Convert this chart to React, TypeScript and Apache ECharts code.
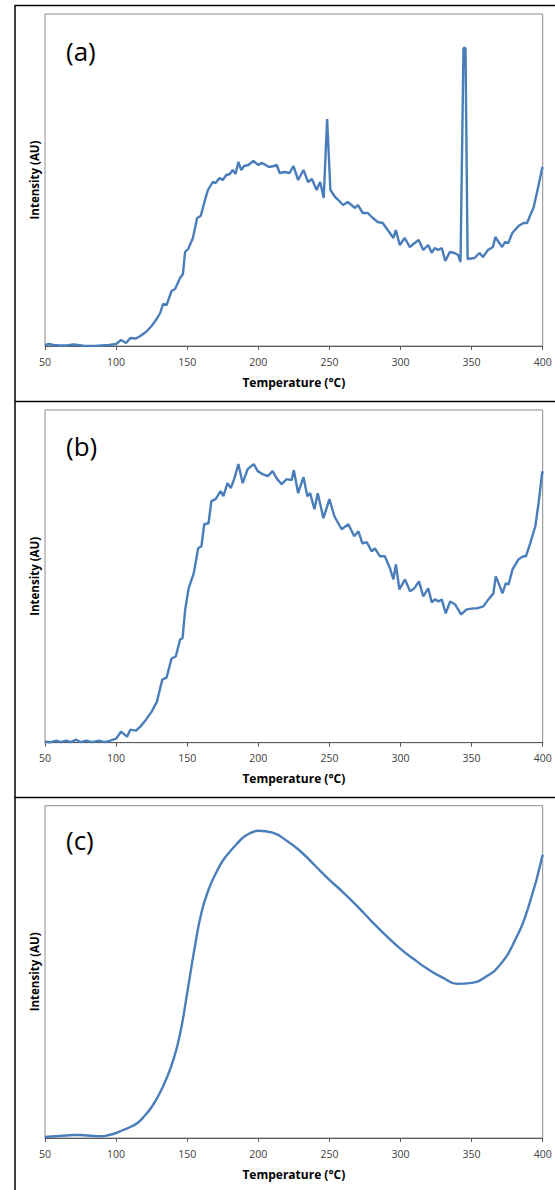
import React, { useEffect, useRef } from "react";
import * as echarts from "echarts";

// Panel (a): raw spectrum with two spikes
const tempA = [50,53,56,60,65,70,73,78,85,90,95,100,103.5,107,110,114,117,121,125,128.5,131,133,135.5,139,141.5,145,147,148.5,150.7,154,157,159.5,162.5,164.6,168,170,172.7,175,177.5,180,182,184,186,188,190,193,196.5,200,202,204,207.5,211,213,215,218.6,222,224.7,228,231.8,235,237.7,241,243.5,246,248.4,250.7,254,256.3,259.6,263,268,270,273.5,277,280.5,284,287.5,292,295,296.7,299.5,303,306.5,310,312.8,316,319.5,322,324,326.5,329,331.5,334.7,338,340.5,342.2,344.3,345.7,347.2,352,355.6,358,361.5,365,366.7,369,371.5,373.5,375.8,378.6,383,386.5,389,391.3,393.5,397,399.5,400];
const intA = [1,2,1,0.5,0.5,1.5,1,0,0,0.5,1,2,6,3,8,7.5,10,14,20,27,33,42,41,55,57,68,72,94,97,108,128,130,146,156,164,163,168,166,171,172,176,172,184,176,180,181,185,181,183,182,179,180,181,173,174,173,180,166,176,164,167,156,164,148,227,156,149,146,141,144,138,141,133,133,128,124,123,114,108,116,101,108,99,103,106,96,101,93,98,96,98,85,94,93,91,84,298,298,87,88,93,89,96,99,109,104,99,104,103,113,120,123,123,131,138,160,177,179];

// Panel (b): spectrum with spikes removed
const tempB = [50,54,58,61,65,68,72,75,79,83,88,92,96,100,103.5,107.7,110,114,117,121,125,128.7,132.5,135.5,139,142,145,146.7,148.6,151,154.6,157.7,160,162,165,167,170,173.5,175.5,178.3,180.7,183,186,189,192.5,196.8,199.6,203,206.7,210,213.3,216.4,220,223.4,225,228,231.8,234.5,236.4,239.5,241.8,245.8,250,253.5,258.6,263.3,267.5,270.4,273.2,276.3,279.8,282,285.6,289,292.6,295,296.8,299.2,303.2,306.7,309.7,313,316,319.5,322,324.3,326.7,329,331.8,334.9,338.4,342.6,346.6,351.3,353.6,358.3,361.8,365.3,367,369.3,371.7,374,376,378.8,383,386.5,388.2,391.2,394.8,397.1,399.5,400];
const intB = [1,0.5,2,0.5,2,0.5,3,0.5,2,0.5,2,0.5,2,4,11,6,13,12,16,23,31,41,63,65,84,86,103,104,133,154,169,194,196,218,219,241,243,251,246,259,254,263,278,259,273,278,271,268,266,271,263,258,263,262,272,249,265,246,249,233,249,224,243,226,213,218,206,211,199,200,191,194,186,186,174,163,178,153,163,151,154,161,146,154,140,143,141,143,129,141,138,128,133,134,134,136,143,149,166,158,149,159,158,173,183,186,186,199,216,239,268,271];

// Panel (c): smoothed spectrum
const tempC = [50,55,60,65,70,75,80,85,90,95,100,105,110,115,120,125,130,135,140,145,150,155,160,165,170,175,180,185,190,195,200,210,220,230,240,250,260,270,280,290,300,310,320,330,340,350,360,370,380,390,400];
const intC = [1,1.5,2,2.5,3,3,2.5,2,1.7,3,5,8,11,15,22,31,43,58,77,104,145,188,225,248,264,277,286,294,301,305,307,305,297,286,272,258,245,231,216,202,189,178,168,160,154,155,161,173,196,231,283];

const xTicks = { min: 50, max: 400, interval: 50 };
const panelLabels = ["(a)", "(b)", "(c)"];
const xTitle = "Temperature (°C)";
const yTitle = "Intensity (AU)";

const zip = (xs: number[], ys: number[]) => xs.map((x, i) => [x, ys[i]]);

export default function App() {
  const ref = useRef<HTMLDivElement>(null);
  useEffect(() => {
    if (!ref.current) return;
    const chart = echarts.init(ref.current, undefined, { renderer: "svg" });
    const grids = [
      { left: 45, top: 14, width: 497.7, height: 332 },
      { left: 45, top: 410, width: 497.7, height: 332.7 },
      { left: 45, top: 805.7, width: 497.7, height: 332.3 },
    ];
    const labelY = [51, 446, 840];
    const datasets = [zip(tempA, intA), zip(tempB, intB), zip(tempC, intC)];
    const font = "Open Sans";
    chart.setOption({
      animation: false,
      backgroundColor: "#fff",
      grid: grids.map((g) => ({ ...g, show: true, borderColor: "#8c8c8c", borderWidth: 1, backgroundColor: "transparent" })),
      xAxis: grids.map((_, i) => ({
        type: "value",
        gridIndex: i,
        min: xTicks.min,
        max: xTicks.max,
        interval: xTicks.interval,
        axisLine: { show: true, lineStyle: { color: "#595959", width: 1 } },
        axisTick: { show: true, length: 4, lineStyle: { color: "#595959" } },
        axisLabel: { fontSize: 10.5, color: "#404040", margin: 10, fontFamily: font },
        splitLine: { show: false },
        name: xTitle,
        nameLocation: "middle",
        nameGap: 30,
        nameTextStyle: { fontWeight: "bold", fontSize: 12, color: "#000", fontFamily: font },
      })),
      yAxis: grids.map((_, i) => ({
        type: "value",
        gridIndex: i,
        min: 0,
        max: 332,
        axisLine: { show: false },
        axisTick: { show: false },
        axisLabel: { show: false },
        splitLine: { show: false },
        name: yTitle,
        nameLocation: "middle",
        nameGap: 5,
        nameTextStyle: { fontWeight: "bold", fontSize: 11.5, color: "#000", fontFamily: font },
      })),
      series: datasets.map((d, i) => ({
        type: "line",
        xAxisIndex: i,
        yAxisIndex: i,
        data: d,
        showSymbol: false,
        smooth: i === 2 ? 0.5 : false,
        lineStyle: { color: "#4A7EBB", width: 2.4 },
      })),
      graphic: [
        { type: "line", shape: { x1: 15, y1: 5, x2: 15, y2: 1190 }, style: { stroke: "#000", lineWidth: 1.5 } },
        { type: "line", shape: { x1: 15, y1: 5.5, x2: 555, y2: 5.5 }, style: { stroke: "#000", lineWidth: 1.5 } },
        { type: "line", shape: { x1: 15, y1: 401.5, x2: 555, y2: 401.5 }, style: { stroke: "#000", lineWidth: 1.5 } },
        { type: "line", shape: { x1: 15, y1: 797.5, x2: 555, y2: 797.5 }, style: { stroke: "#000", lineWidth: 1.5 } },
        ...panelLabels.map((t, i) => ({
          type: "text",
          x: 66,
          y: labelY[i],
          style: { text: t, fontSize: 26, fontFamily: font, fill: "#000", verticalAlign: "middle" },
        })),
      ],
    });
    return () => chart.dispose();
  }, []);
  return <div ref={ref} style={{ position: "absolute", left: 0, top: 0, width: 555, height: 1190 }} />;
}
